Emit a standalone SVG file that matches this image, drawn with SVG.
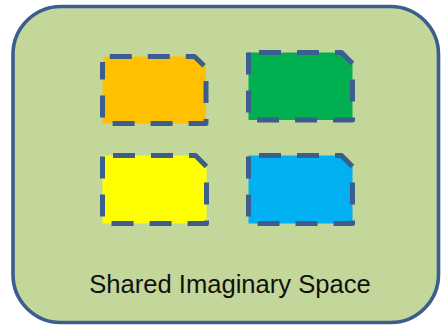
<svg xmlns="http://www.w3.org/2000/svg" width="441" height="329" viewBox="0 0 441 329">
<style>
.frame{fill:#C4D79B;stroke:#3B5E8E;stroke-width:3.6}
.box{stroke:#3B5E8E;stroke-width:5;stroke-dasharray:22 16;stroke-dashoffset:27.5;stroke-linejoin:round}
.label{font-family:"Liberation Sans",Arial,sans-serif;font-size:25.6px;fill:#111}
</style>
<g id="space">
<rect class="frame" x="13" y="6.5" width="425.5" height="316" rx="48" ry="48"/>
<text class="label" x="230" y="293" text-anchor="middle">Shared Imaginary Space</text>
</g>
<g id="orange">
<path class="box" fill="#FFC000" d="M102.5,62 Q102.5,56.5 108,56.5 L194.5,56.5 L206,67.5 L206,123.5 L102.5,123.5 Z"/>
</g>
<g id="green">
<path class="box" fill="#00B050" d="M248.5,52.5 L341.5,52.5 L352.5,63.5 L352.5,120 L248.5,120 Z"/>
</g>
<g id="yellow">
<path class="box" fill="#FFFF00" d="M102.5,155.5 L195.5,155.5 L206.5,166.5 L206.5,223.5 L102.5,223.5 Z"/>
</g>
<g id="blue">
<path class="box" fill="#00B0F0" d="M248.5,155.5 L341.5,155.5 L352.5,166.5 L352.5,223.5 L248.5,223.5 Z"/>
</g>
<g id="connectors"></g>
</svg>
